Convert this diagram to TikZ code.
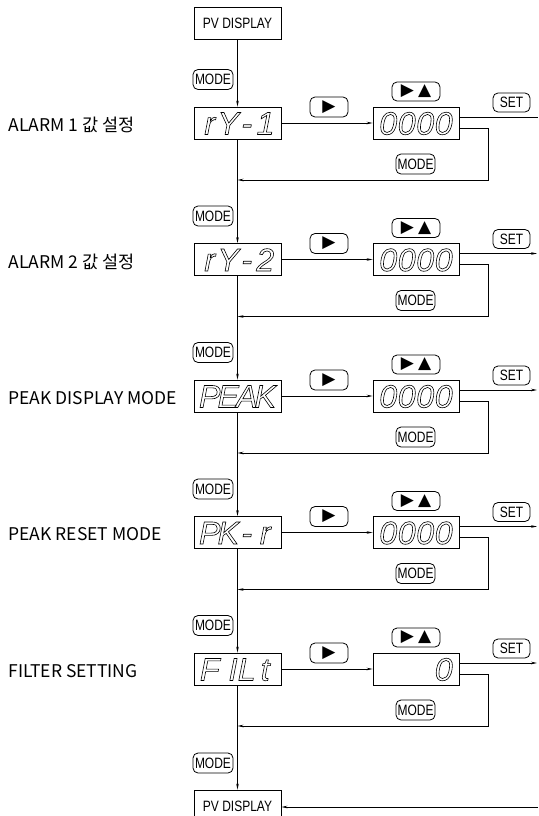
\documentclass[tikz,border=0pt]{standalone}
\usepackage{fontspec}
\setmainfont{Liberation Sans}
\newfontfamily\krfont{Noto Sans CJK KR}
\newfontfamily\btnfont{Liberation Sans}[FakeStretch=0.8]
\newfontfamily\segfont{Liberation Sans Italic}
\newfontfamily\symfont{DejaVu Sans}
\usetikzlibrary{arrows.meta}
\newcommand\outl[1]{\special{pdf:literal direct 1 Tr 0.6 w}#1\special{pdf:literal direct 0 Tr}}
\newcommand\cell[2][c]{\makebox[18.5pt][#1]{#2}}
\begin{document}
\begin{tikzpicture}[x=1pt,y=-1pt,line width=0.8pt,
  disp/.style={draw,minimum width=87pt,minimum height=32pt,inner sep=0pt,
    font=\segfont\fontsize{32}{32}\selectfont,text height=23pt,text depth=0pt},
  pvbox/.style={draw,minimum width=87pt,minimum height=32pt,inner sep=0pt,
    font=\btnfont\fontsize{15}{15}\selectfont},
  btn/.style={draw,rounded corners=5pt,inner sep=0pt,
    font=\btnfont\fontsize{15}{15}\selectfont},
  modebtn/.style={btn,minimum width=40pt,minimum height=20pt},
  symbtn/.style={btn,font=\symfont\fontsize{17}{17}\selectfont},
  lbl/.style={anchor=west,inner sep=0pt,font=\krfont\fontsize{17.5}{17.5}\selectfont},
  arr/.style={-{Stealth[length=6pt,width=2.6pt]}},
]
\useasboundingbox (0,0) rectangle (538,816);
\node[pvbox] (pv0) at (237.5,23) {PV DISPLAY};
\foreach \i/\y/\lab/\seg/\val in {
  1/123/{ALARM 1 값 설정}/{\cell{r}\cell{Y}\cell{-}\cell[r]{1}}/{\cell{0}\cell{0}\cell{0}\cell{0}},
  2/259.5/{ALARM 2 값 설정}/{\cell{r}\cell{Y}\cell{-}\cell{2}}/{\cell{0}\cell{0}\cell{0}\cell{0}},
  3/396/{PEAK DISPLAY MODE}/{\cell{P}\cell{E}\cell{A}\cell{K}}/{\cell{0}\cell{0}\cell{0}\cell{0}},
  4/532.5/{PEAK RESET MODE}/{\cell{P}\cell{K}\cell{-}\cell{r}}/{\cell{0}\cell{0}\cell{0}\cell{0}},
  5/669/{FILTER SETTING}/{\cell{F}\cell[r]{I}\cell{L}\cell{t}}/{\cell{}\cell{}\cell{}\cell{0}}}{
  \node[lbl] (L\i) at (8,\y+2) {\lab};
  \node[modebtn] (m\i) at (213,\y-43.5) {MODE};
  \node[disp] (d\i) at (237.5,\y) {\outl{\seg}};
  \node[symbtn,minimum width=38pt,minimum height=20pt] (r\i) at (329,\y-16) {▶};
  \node[disp,minimum width=86pt] (v\i) at (416,\y) {\outl{\val}};
  \node[symbtn,minimum width=48pt,minimum height=19pt] (u\i) at (416,\y-31.5) {▶\hspace{4pt}▲};
  \node[btn,minimum width=37pt,minimum height=19pt] (s\i) at (511.5,\y-20.5) {SET};
  \node[modebtn,minimum width=39pt] (f\i) at (415.5,\y+41) {MODE};
  \draw[arr] (d\i) -- (v\i);
  \coordinate (o\i) at (537,\y-6);
  \coordinate (fa\i) at (488,\y+5);
  \coordinate (fb\i) at (488,\y+57);
  \coordinate (fc\i) at (237.5,\y+57);
  \draw[arr] (fa\i -| v\i.east) -- (fa\i) -- (fb\i) -- (fc\i);
}
\foreach \i in {2,3,4,5}{\draw[arr] (o\i -| v\i.east) -- (o\i);}
\coordinate (o1e) at (538,117);
\draw (o1e -| v1.east) -- (o1e);
\node[modebtn] (m6) at (213,763) {MODE};
\node[pvbox] (pv1) at (237.5,806) {PV DISPLAY};
\coordinate (o6) at (538,807);
\draw[arr] (o6) -- (o6 -| pv1.east);
\draw[arr] (pv0) -- (d1);
\foreach \a/\b in {d1/d2,d2/d3,d3/d4,d4/d5,d5/pv1}{\draw[arr] (\a) -- (\b);}
\end{tikzpicture}
\end{document}
